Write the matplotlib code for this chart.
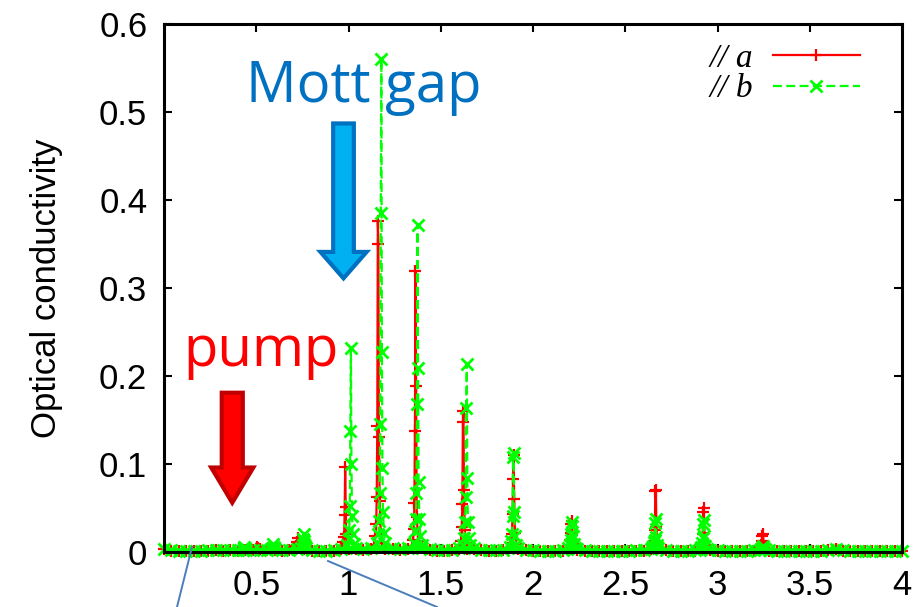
import numpy as np
import matplotlib
matplotlib.use('Agg')
import matplotlib.pyplot as plt
from matplotlib.patches import FancyArrow
from matplotlib.lines import Line2D
from matplotlib.font_manager import FontProperties

# baseline samples (every 0.04)
base_x = np.round(np.arange(0, 4.001, 0.04), 2)
base_a = [0.003, 0.0015, 0.001, 0.001, 0.001, 0.001, 0.0015, 0.002, 0.0015, 0.002,
          0.0015, 0.002, 0.002, 0.003, 0.002, 0.002, 0.0015, 0.002, 0.003, 0.003,
          0.0015, 0.001, 0.001, 0.0015, 0.003, 0.003, 0.003, 0.002, 0.003, 0.003,
          0.003, 0.003, 0.002, 0.003, 0.003, 0.004, 0.002, 0.0015, 0.0015, 0.002,
          0.003, 0.003, 0.003, 0.002, 0.0015, 0.0015, 0.002, 0.003, 0.003, 0.002,
          0.0015, 0.001, 0.001, 0.001, 0.0015, 0.002, 0.002, 0.0015, 0.001, 0.001,
          0.001, 0.001, 0.001, 0.001, 0.0015, 0.0015, 0.003, 0.003, 0.002, 0.0015,
          0.001, 0.001, 0.0015, 0.003, 0.002, 0.0015, 0.001, 0.001, 0.001, 0.001,
          0.0015, 0.002, 0.0015, 0.001, 0.001, 0.001, 0.001, 0.001, 0.001, 0.0015,
          0.002, 0.003, 0.0015, 0.001, 0.001, 0.001, 0.001, 0.001, 0.001, 0.001,
          0.001]
base_b = [0.003, 0.002, 0.0015, 0.0015, 0.0015, 0.0015, 0.002, 0.0025, 0.002, 0.0025,
          0.002, 0.003, 0.002, 0.002, 0.0025, 0.003, 0.002, 0.002, 0.003, 0.004,
          0.002, 0.0015, 0.0015, 0.002, 0.003, 0.004, 0.004, 0.003, 0.004, 0.004,
          0.004, 0.004, 0.003, 0.004, 0.004, 0.005, 0.003, 0.002, 0.002, 0.0025,
          0.004, 0.004, 0.004, 0.0025, 0.002, 0.002, 0.0025, 0.004, 0.004, 0.0025,
          0.002, 0.0015, 0.0015, 0.0015, 0.002, 0.003, 0.003, 0.002, 0.0015, 0.0015,
          0.0015, 0.0015, 0.0015, 0.0015, 0.002, 0.002, 0.003, 0.003, 0.002, 0.0015,
          0.0015, 0.0015, 0.002, 0.003, 0.0025, 0.002, 0.0015, 0.0015, 0.0015, 0.0015,
          0.002, 0.002, 0.002, 0.0015, 0.0015, 0.0015, 0.0015, 0.0015, 0.0015, 0.0015,
          0.002, 0.003, 0.002, 0.0015, 0.0015, 0.0015, 0.0015, 0.0015, 0.0015, 0.0015,
          0.0015]

# peaks of // a  (x, y)
peaks_a = [
    ([0.498, 0.503, 0.506, 0.509, 0.514], [0.003, 0.004, 0.006, 0.004, 0.003]),
    ([0.712, 0.718, 0.721, 0.724, 0.727, 0.732], [0.004, 0.007, 0.011, 0.016, 0.010, 0.005]),
    ([0.966, 0.972, 0.976, 0.979, 0.982, 0.985, 0.988, 0.992, 0.998],
     [0.006, 0.011, 0.017, 0.042, 0.097, 0.051, 0.020, 0.010, 0.005]),
    ([1.140, 1.146, 1.150, 1.153, 1.156, 1.159, 1.162, 1.165, 1.169, 1.175, 1.180, 1.188],
     [0.008, 0.018, 0.032, 0.062, 0.143, 0.376, 0.350, 0.131, 0.058, 0.020, 0.010, 0.006]),
    ([1.342, 1.350, 1.354, 1.357, 1.360, 1.363, 1.366, 1.370, 1.378],
     [0.007, 0.014, 0.026, 0.056, 0.138, 0.319, 0.189, 0.040, 0.012]),
    ([1.602, 1.610, 1.614, 1.617, 1.620, 1.623, 1.626, 1.630, 1.638],
     [0.006, 0.012, 0.028, 0.055, 0.148, 0.160, 0.070, 0.025, 0.010]),
    ([1.874, 1.882, 1.886, 1.889, 1.892, 1.895, 1.898, 1.902, 1.910],
     [0.005, 0.010, 0.020, 0.043, 0.083, 0.110, 0.060, 0.022, 0.009]),
    ([2.190, 2.198, 2.202, 2.205, 2.208, 2.211, 2.214, 2.218, 2.226],
     [0.004, 0.008, 0.014, 0.022, 0.032, 0.035, 0.020, 0.010, 0.005]),
    ([2.645, 2.653, 2.657, 2.660, 2.663, 2.666, 2.669, 2.673, 2.681],
     [0.004, 0.008, 0.012, 0.025, 0.069, 0.071, 0.028, 0.010, 0.005]),
    ([2.905, 2.913, 2.917, 2.920, 2.923, 2.926, 2.929, 2.933, 2.941],
     [0.003, 0.006, 0.010, 0.020, 0.046, 0.050, 0.022, 0.008, 0.004]),
    ([3.225, 3.233, 3.237, 3.240, 3.243, 3.246, 3.249, 3.253, 3.261],
     [0.003, 0.005, 0.008, 0.012, 0.018, 0.021, 0.011, 0.006, 0.003]),
]

# peaks of // b
peaks_b = [
    ([0.426, 0.431, 0.434, 0.437, 0.443], [0.002, 0.004, 0.006, 0.004, 0.002]),
    ([0.582, 0.588, 0.593, 0.598, 0.604], [0.003, 0.005, 0.0095, 0.006, 0.003]),
    ([0.745, 0.751, 0.755, 0.758, 0.761, 0.766, 0.772], [0.004, 0.008, 0.015, 0.021, 0.012, 0.007, 0.004]),
    ([0.994, 1.000, 1.004, 1.007, 1.010, 1.013, 1.016, 1.019, 1.023, 1.030],
     [0.008, 0.015, 0.025, 0.052, 0.137, 0.232, 0.100, 0.041, 0.020, 0.009]),
    ([1.155, 1.162, 1.166, 1.169, 1.172, 1.175, 1.178, 1.181, 1.184, 1.187, 1.192, 1.200],
     [0.010, 0.020, 0.035, 0.067, 0.146, 0.385, 0.560, 0.227, 0.095, 0.046, 0.022, 0.010]),
    ([1.355, 1.361, 1.365, 1.368, 1.371, 1.374, 1.377, 1.380, 1.384, 1.390, 1.398],
     [0.010, 0.024, 0.037, 0.067, 0.168, 0.372, 0.209, 0.079, 0.037, 0.018, 0.008]),
    ([1.622, 1.628, 1.632, 1.635, 1.638, 1.641, 1.644, 1.647, 1.651, 1.658],
     [0.008, 0.016, 0.034, 0.062, 0.164, 0.214, 0.084, 0.034, 0.016, 0.008]),
    ([1.876, 1.882, 1.886, 1.889, 1.892, 1.895, 1.898, 1.902, 1.910],
     [0.006, 0.012, 0.020, 0.041, 0.108, 0.113, 0.045, 0.018, 0.008]),
    ([2.192, 2.200, 2.204, 2.207, 2.210, 2.213, 2.216, 2.220, 2.228],
     [0.004, 0.008, 0.014, 0.020, 0.029, 0.034, 0.018, 0.009, 0.005]),
    ([2.644, 2.652, 2.656, 2.659, 2.662, 2.665, 2.668, 2.672, 2.680],
     [0.004, 0.007, 0.011, 0.014, 0.033, 0.037, 0.017, 0.008, 0.004]),
    ([2.905, 2.913, 2.917, 2.920, 2.923, 2.926, 2.929, 2.933, 2.941],
     [0.003, 0.006, 0.010, 0.016, 0.032, 0.036, 0.018, 0.007, 0.003]),
    ([3.232, 3.238, 3.242, 3.245, 3.249, 3.256], [0.002, 0.003, 0.005, 0.007, 0.005, 0.003]),
]

xticks = [0.5, 1, 1.5, 2, 2.5, 3, 3.5, 4]
xtick_labels = ['0.5', '1', '1.5', '2', '2.5', '3', '3.5', '4']
yticks = [0, 0.1, 0.2, 0.3, 0.4, 0.5, 0.6]
ytick_labels = ['0', '0.1', '0.2', '0.3', '0.4', '0.5', '0.6']


def build(base_y, peaks):
    xs, ys = [], []
    for bx, by in zip(base_x, base_y):
        if any(min(px) <= bx <= max(px) for px, _ in peaks):
            continue
        xs.append(bx)
        ys.append(by)
    for px, py in peaks:
        xs += px
        ys += py
    order = np.argsort(xs)
    return np.array(xs)[order], np.array(ys)[order]


xa, ya = build(base_a, peaks_a)
xb, yb = build(base_b, peaks_b)

plt.rcParams['font.family'] = ['Liberation Sans', 'DejaVu Sans']

fig = plt.figure(figsize=(9.13, 6.07), dpi=100)
ax = fig.add_axes([164 / 913, 1 - 552 / 607, 738 / 913, 528 / 607])

ax.plot(xa, ya, color='#ff0000', lw=1.6, marker='+', ms=9, mew=1.6,
        label='// a', clip_on=False)
ax.plot(xb, yb, color='#00ff00', lw=1.6, ls=(0, (4, 2)), marker='x', ms=8.5, mew=2.0,
        label='// b', clip_on=False)
# thick green band along the baseline where the points overlap
ax.plot(base_x, base_b, color='#00ff00', lw=3.5, solid_capstyle='butt', clip_on=False,
        zorder=2.1)

ax.set_xlim(0, 4)
ax.set_ylim(0, 0.6)
ax.set_xticks(xticks)
ax.set_xticklabels(xtick_labels)
ax.set_yticks(yticks)
ax.set_yticklabels(ytick_labels)
ax.tick_params(direction='in', length=6, width=1.5, labelsize=25,
               top=True, right=True)
ax.tick_params(axis='x', pad=12)
ax.tick_params(axis='y', pad=12)
for sp in ax.spines.values():
    sp.set_linewidth(2.2)
    sp.set_zorder(3)
ax.set_ylabel('Optical conductivity', fontsize=25, labelpad=26)

leg = ax.legend(loc='upper right', bbox_to_anchor=(0.965, 0.995), frameon=False,
                markerfirst=False, numpoints=1, handlelength=2.6, handletextpad=0.6,
                labelspacing=0.0, borderpad=0,
                prop=FontProperties(family='Liberation Serif', style='italic', size=24))

# annotations
fig.text(246 / 913, 1 - 102 / 607, 'Mott gap', color='#0070c0', fontsize=40.5,
         family='Open Sans', va='baseline', ha='left')
fig.text(183 / 913, 1 - 366 / 607, 'pump', color='#ff0000', fontsize=40.5,
         family='Open Sans', va='baseline', ha='left')

ax.add_patch(FancyArrow(0.973, 0.487, 0, -0.176, width=0.112, head_width=0.25,
                        head_length=0.030, length_includes_head=True,
                        facecolor='#00b0f0', edgecolor='#0070c0', lw=3, clip_on=False,
                        zorder=4))
ax.add_patch(FancyArrow(0.37, 0.181, 0, -0.125, width=0.114, head_width=0.228,
                        head_length=0.040, length_includes_head=True,
                        facecolor='#ff0000', edgecolor='#c00000', lw=3, clip_on=False,
                        zorder=4))

fig.add_artist(Line2D([192 / 913, 177 / 913], [1 - 547 / 607, 0], color='#4a7ebb', lw=1.4))
fig.add_artist(Line2D([328 / 913, 437 / 913], [1 - 561 / 607, 0], color='#4a7ebb', lw=1.4))

fig.savefig('out.png', dpi=100)
